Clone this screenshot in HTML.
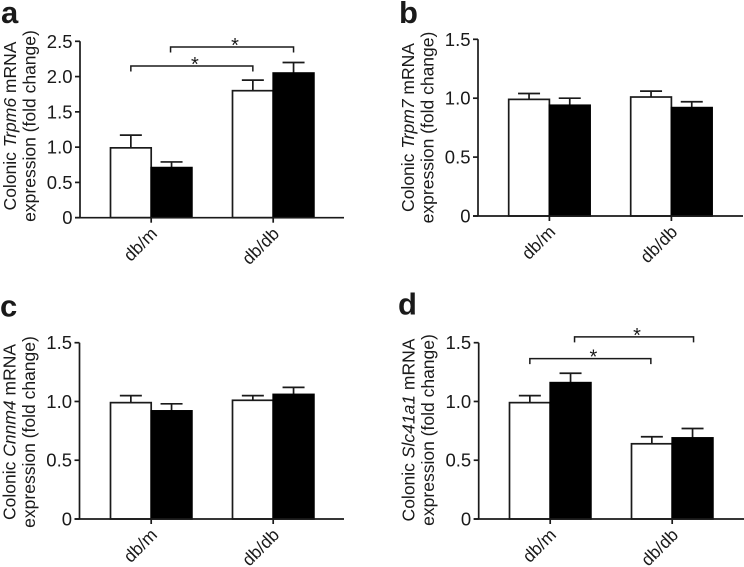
<!DOCTYPE html>
<html lang="en">
<head>
<meta charset="utf-8">
<title>Colonic mRNA expression panels</title>
<style>
html,body{margin:0;padding:0;background:#fff;width:744px;height:567px;overflow:hidden}
svg{display:block;font-family:"Liberation Sans",Arial,sans-serif;fill:#1a1a1a}
</style>
</head>
<body>
<svg id="figure" xmlns="http://www.w3.org/2000/svg" width="744" height="567" viewBox="0 0 744 567"></svg>
<script>
const categories = ['db/m', 'db/db'];

const tickLabelsA = ['0', '0.5', '1.0', '1.5', '2.0', '2.5'];
const tickLabelsOther = ['0', '0.5', '1.0', '1.5'];

const meansA = [0.99, 0.71, 1.80, 2.05];
const errorsA = [1.17, 0.79, 1.95, 2.20];
const meansB = [0.99, 0.94, 1.01, 0.92];
const errorsB = [1.04, 1.00, 1.06, 0.97];
const meansC = [0.99, 0.92, 1.01, 1.06];
const errorsC = [1.05, 0.98, 1.05, 1.12];
const meansD = [0.99, 1.16, 0.64, 0.69];
const errorsD = [1.05, 1.24, 0.70, 0.77];

const bracketLevelsA = [2.15, 2.42];
const bracketLevelsD = [1.364, 1.55];

const svg = document.getElementById('figure');
const NS = 'http://www.w3.org/2000/svg';
const INK = '#1a1a1a';

function add(parent, tag, attrs) {
  const el = document.createElementNS(NS, tag);
  for (const k in attrs) el.setAttribute(k, attrs[k]);
  parent.appendChild(el);
  return el;
}

function drawPanel(p) {
  const g = add(svg, 'g', {});
  
  

  const yScale = v => p.y0 - (v / p.yMax) * (p.y0 - p.yTop);
  const groupLeft = i => p.firstBar + i * p.groupStep;
  const barLeft = i => groupLeft(Math.floor(i / 2)) + (i % 2) * p.barW;
  const barCenter = i => barLeft(i) + p.barW / 2;

  const letter = add(g, 'text', {x: p.letterX, y: p.letterY, 'font-size': 31, 'font-weight': 'bold'});
  letter.textContent = p.letter;
  
  

  const line1 = add(g, 'text', {transform: 'translate(' + (p.axisX - 64) + ',' + p.labelY + ') rotate(-90)', 'text-anchor': 'middle', 'font-size': 17.5});
  
  
  add(line1, 'tspan', {}).textContent = 'Colonic ';
  add(line1, 'tspan', {'font-style': 'italic'}).textContent = p.gene;
  add(line1, 'tspan', {}).textContent = ' mRNA';

  const line2 = add(g, 'text', {transform: 'translate(' + (p.axisX - 44.5) + ',' + p.labelY + ') rotate(-90)', 'text-anchor': 'middle', 'font-size': 17.5});
  line2.textContent = 'expression (fold change)';
  
  

  p.means.forEach((m, i) => {
    const cx = barCenter(i);
    const err = add(g, 'path', {d: 'M' + cx + ' ' + yScale(m) + 'V' + yScale(p.errors[i]) + 'M' + (cx - 11) + ' ' + yScale(p.errors[i]) + 'H' + (cx + 11), fill: 'none', stroke: INK, 'stroke-width': 1.7});
    
    
    const black = i % 2 === 1;
    const bar = add(g, 'rect', {x: barLeft(i), y: yScale(m), width: p.barW, height: p.y0 - yScale(m), fill: black ? '#000' : '#fff', stroke: black ? '#000' : INK, 'stroke-width': 1.7});
    
    
  });

  const axes = add(g, 'path', {d: 'M' + p.axisX + ' ' + p.yTop + 'V' + p.y0 + 'M' + (p.axisX - 5) + ' ' + p.y0 + 'H' + p.xEnd, fill: 'none', stroke: INK, 'stroke-width': 1.7});
  
  

  p.ticks.forEach(t => {
    const v = parseFloat(t);
    const mark = add(g, 'line', {x1: p.axisX - 5, x2: p.axisX, y1: yScale(v), y2: yScale(v), stroke: INK, 'stroke-width': 1.7});
    
    
    const label = add(g, 'text', {x: p.axisX - 7.5, y: yScale(v) + 6.5, 'text-anchor': 'end', 'font-size': 18.5});
    label.textContent = t;
    
    
  });

  categories.forEach((c, i) => {
    const x = groupLeft(i) + p.barW;
    const mark = add(g, 'line', {x1: x, x2: x, y1: p.y0, y2: p.y0 + 5, stroke: INK, 'stroke-width': 1.7});
    
    
    const label = add(g, 'text', {transform: 'translate(' + (x + 7) + ',' + (p.y0 + 17) + ') rotate(-45)', 'text-anchor': 'end', 'font-size': 17.5});
    label.textContent = c;
    
    
  });

  (p.brackets || []).forEach(b => {
    const y = yScale(b.level);
    const x1 = barCenter(b.from) + b.shift;
    const x2 = barCenter(b.to) + b.shift2;
    const path = add(g, 'path', {d: 'M' + x1 + ' ' + (y + 5.5) + 'V' + y + 'H' + x2 + 'V' + (y + 5.5), fill: 'none', stroke: INK, 'stroke-width': 1.5});
    
    
    const star = add(g, 'text', {x: (x1 + x2) / 2 + 3, y: y + 5, 'text-anchor': 'middle', 'font-size': 20});
    star.textContent = '*';
    
    
  });
}

drawPanel({letter: 'a', gene: 'Trpm6', letterX: 1, letterY: 23, axisX: 80, y0: 217.7, yTop: 41.3, yMax: 2.5, xEnd: 344, firstBar: 110.5, groupStep: 122, barW: 40.7, labelY: 126, ticks: tickLabelsA, means: meansA, errors: errorsA,
  brackets: [{level: bracketLevelsA[0], from: 0, to: 2, shift: 0, shift2: 0}, {level: bracketLevelsA[1], from: 1, to: 3, shift: -1, shift2: 0}]});
drawPanel({letter: 'b', gene: 'Trpm7', letterX: 399, letterY: 23, axisX: 478, y0: 216, yTop: 39.3, yMax: 1.5, xEnd: 743, firstBar: 508.7, groupStep: 122, barW: 40.7, labelY: 127.5, ticks: tickLabelsOther, means: meansB, errors: errorsB});
drawPanel({letter: 'c', gene: 'Cnnm4', letterX: 0, letterY: 316.7, axisX: 79.5, y0: 519, yTop: 342.7, yMax: 1.5, xEnd: 344, firstBar: 110.5, groupStep: 122, barW: 40.7, labelY: 432, ticks: tickLabelsOther, means: meansC, errors: errorsC});
drawPanel({letter: 'd', gene: 'Slc41a1', letterX: 398, letterY: 314.7, axisX: 478.7, y0: 519, yTop: 342.7, yMax: 1.5, xEnd: 744, firstBar: 509.5, groupStep: 122, barW: 40.7, labelY: 430, ticks: tickLabelsOther, means: meansD, errors: errorsD,
  brackets: [{level: bracketLevelsD[0], from: 0, to: 2, shift: 0, shift2: -1}, {level: bracketLevelsD[1], from: 1, to: 3, shift: 4, shift2: 1}]});
</script>
</body>
</html>
